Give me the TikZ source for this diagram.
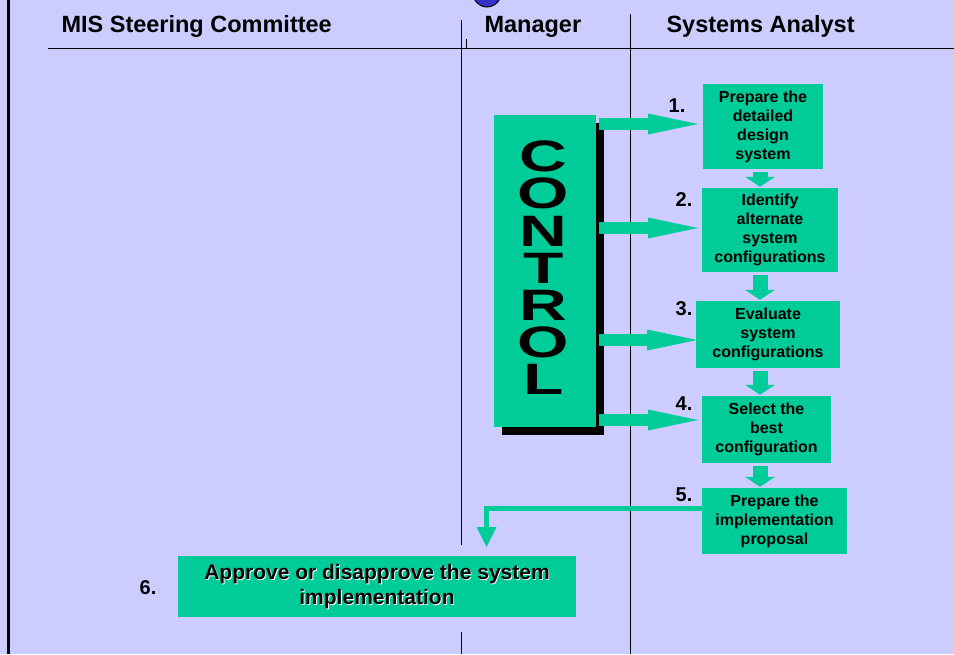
\documentclass[tikz,border=0pt]{standalone}
\usepackage{fontspec}
\setmainfont{Liberation Sans}
\usetikzlibrary{arrows.meta,shadows}
\definecolor{lav}{HTML}{CCCCFF}
\definecolor{boxgreen}{HTML}{00CC99}
\definecolor{blob}{HTML}{3333CC}
\begin{document}
\begin{tikzpicture}[
		x=1pt,y=-1pt,
		lane/.style={line width=1pt},
		lanehead/.style={anchor=base west,font=\bfseries\fontsize{23.5}{28}\selectfont},
		task/.style={fill=boxgreen,inner sep=0pt,align=center,font=\bfseries\fontsize{16}{19}\selectfont},
		num/.style={font=\bfseries\fontsize{20}{24}\selectfont},
		bigtxt/.style={align=center,font=\bfseries\fontsize{21}{25}\selectfont},
		ctrlarrow/.style={boxgreen,line width=12pt,-{Triangle[length=50pt,width=21pt,line width=0pt]}},
		downarrow/.style={boxgreen,line width=15pt,shorten <=3pt,shorten >=1pt,-{Triangle[length=10pt,width=30pt,line width=0pt]}}
	]
	\useasboundingbox (0,0) rectangle (954,654);
	\fill[lav] (0,0) rectangle (954,654);
	\draw[fill=blob,line width=1pt] (487,-10) ellipse [x radius=15pt,y radius=17pt];
	\draw[line width=3pt] (8.5,0) -- (8.5,654);

	\node[lanehead] (h1) at (58,32.5) {MIS Steering Committee};
	\node[lanehead] (h2) at (481,32.5) {Manager};
	\node[lanehead] (h3) at (663,32.5) {Systems Analyst};
	\draw[lane] (48,48) -- (954,48);
	\draw[lane] (461,20) -- (461,545) (461,632) -- (461,654);
	\draw[lane] (466,39) -- (466,48);
	\draw[lane] (630,14) -- (630,654);

	\node[fill=boxgreen,minimum width=102pt,minimum height=312pt,inner sep=0pt,
		drop shadow={shadow xshift=8pt,shadow yshift=-8pt,fill=black,opacity=1}] (ctrl) at (545,271) {};
	\node[align=center,xscale=1.5,inner sep=0pt,font=\bfseries\fontsize{44}{37.2}\selectfont]
		(word) at ([xshift=-1.5pt,yshift=3pt]ctrl.center) {C\\O\\N\\T\\R\\O\\L};

	\node[task,minimum width=120pt,minimum height=85pt] (b1) at (763,126.5) {Prepare the\\detailed\\design\\system};
	\node[task,minimum width=136pt,minimum height=84pt] (b2) at (770,230) {Identify\\alternate\\system\\configurations};
	\node[task,minimum width=144pt,minimum height=67pt] (b3) at (768,334.5) {Evaluate\\system\\configurations};
	\node[task,minimum width=129pt,minimum height=67pt] (b4) at (766.5,429.5) {Select the\\best\\configuration};
	\node[task,minimum width=145pt,minimum height=66pt] (b5) at (774.5,521) {Prepare the\\implementation\\proposal};
	\node[task,minimum width=398pt,minimum height=61pt] (b6) at (377,586.5) {};
	\node[bigtxt,white] at ([xshift=0.9pt,yshift=-0.9pt]b6.center) {Approve or disapprove the system\\implementation};
	\node[bigtxt] (t6) at (b6.center) {Approve or disapprove the system\\implementation};

	\node[num] (n1) at (677,106) {1.};
	\node[num] (n2) at (684,200) {2.};
	\node[num] (n3) at (684,308.5) {3.};
	\node[num] (n4) at (684,403.5) {4.};
	\node[num] (n5) at (684,495) {5.};
	\node[num] (n6) at (148,587.5) {6.};

	\coordinate (a1) at (698,124);
	\coordinate (a2) at (698,228);
	\coordinate (a3) at (697,340);
	\coordinate (a4) at (698,420);
	\foreach \a in {a1,a2,a3,a4}
		\draw[ctrlarrow] ([xshift=3pt]\a -| ctrl.east) -- (\a);

	\coordinate (ax) at (760,0);
	\draw[downarrow] (b1.south -| ax) -- (b2.north -| ax);
	\draw[downarrow] (b2.south -| ax) -- (b3.north -| ax);
	\draw[downarrow] (b3.south -| ax) -- (b4.north -| ax);
	\draw[downarrow] (b4.south -| ax) -- (b5.north -| ax);

	\coordinate (a6) at (486.5,547);
	\draw[boxgreen,line width=5pt,line join=miter,-{Triangle[length=20pt,width=20pt,line width=0pt]}]
		([yshift=12.5pt]b5.west) -| (a6);
\end{tikzpicture}
\end{document}
